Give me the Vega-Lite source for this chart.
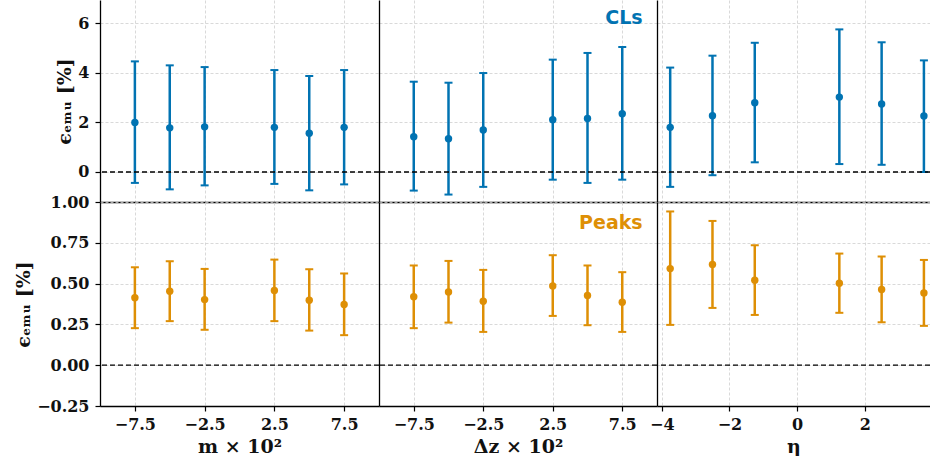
{
  "$schema": "https://vega.github.io/schema/vega-lite/v6.json",
  "padding": {"left": 14, "top": 0, "right": 0, "bottom": 0},
  "background": "white",
  "columns": 3,
  "spacing": 0,
  "bounds": "flush",
  "align": "each",
  "datasets": {
    "cls": [
      {"param": "m", "x": -7.5, "y": 2.00, "lo": -0.44, "hi": 4.46},
      {"param": "m", "x": -5, "y": 1.78, "lo": -0.70, "hi": 4.30},
      {"param": "m", "x": -2.5, "y": 1.82, "lo": -0.54, "hi": 4.23},
      {"param": "m", "x": 2.5, "y": 1.80, "lo": -0.48, "hi": 4.11},
      {"param": "m", "x": 5, "y": 1.56, "lo": -0.74, "hi": 3.87},
      {"param": "m", "x": 7.5, "y": 1.80, "lo": -0.50, "hi": 4.11},
      {"param": "dz", "x": -7.5, "y": 1.42, "lo": -0.75, "hi": 3.64},
      {"param": "dz", "x": -5, "y": 1.34, "lo": -0.91, "hi": 3.60},
      {"param": "dz", "x": -2.5, "y": 1.69, "lo": -0.60, "hi": 3.99},
      {"param": "dz", "x": 2.5, "y": 2.11, "lo": -0.31, "hi": 4.53},
      {"param": "dz", "x": 5, "y": 2.16, "lo": -0.44, "hi": 4.80},
      {"param": "dz", "x": 7.5, "y": 2.35, "lo": -0.31, "hi": 5.04},
      {"param": "eta", "x": -3.75, "y": 1.80, "lo": -0.60, "hi": 4.21},
      {"param": "eta", "x": -2.5, "y": 2.27, "lo": -0.13, "hi": 4.69},
      {"param": "eta", "x": -1.25, "y": 2.79, "lo": 0.39, "hi": 5.21},
      {"param": "eta", "x": 1.25, "y": 3.02, "lo": 0.32, "hi": 5.75},
      {"param": "eta", "x": 2.5, "y": 2.74, "lo": 0.29, "hi": 5.23},
      {"param": "eta", "x": 3.75, "y": 2.26, "lo": 0.00, "hi": 4.50}
    ],
    "peaks": [
      {"param": "m", "x": -7.5, "y": 0.413, "lo": 0.227, "hi": 0.600},
      {"param": "m", "x": -5, "y": 0.453, "lo": 0.270, "hi": 0.637},
      {"param": "m", "x": -2.5, "y": 0.402, "lo": 0.217, "hi": 0.590},
      {"param": "m", "x": 2.5, "y": 0.458, "lo": 0.270, "hi": 0.647},
      {"param": "m", "x": 5, "y": 0.398, "lo": 0.212, "hi": 0.588},
      {"param": "m", "x": 7.5, "y": 0.372, "lo": 0.184, "hi": 0.562},
      {"param": "dz", "x": -7.5, "y": 0.419, "lo": 0.227, "hi": 0.611},
      {"param": "dz", "x": -5, "y": 0.449, "lo": 0.261, "hi": 0.639},
      {"param": "dz", "x": -2.5, "y": 0.392, "lo": 0.204, "hi": 0.584},
      {"param": "dz", "x": 2.5, "y": 0.486, "lo": 0.302, "hi": 0.674},
      {"param": "dz", "x": 5, "y": 0.427, "lo": 0.245, "hi": 0.611},
      {"param": "dz", "x": 7.5, "y": 0.386, "lo": 0.204, "hi": 0.570},
      {"param": "eta", "x": -3.75, "y": 0.592, "lo": 0.247, "hi": 0.942},
      {"param": "eta", "x": -2.5, "y": 0.617, "lo": 0.351, "hi": 0.884},
      {"param": "eta", "x": -1.25, "y": 0.521, "lo": 0.308, "hi": 0.735},
      {"param": "eta", "x": 1.25, "y": 0.502, "lo": 0.321, "hi": 0.684},
      {"param": "eta", "x": 2.5, "y": 0.464, "lo": 0.263, "hi": 0.666},
      {"param": "eta", "x": 3.75, "y": 0.443, "lo": 0.241, "hi": 0.645}
    ]
  },
  "concat": [
    {
      "width": 279, "height": 202,
      "layer": [
        {"data": {"name": "cls"}, "transform": [{"filter": "datum.param === 'm'"}],
         "mark": {"type": "rule", "color": "#0173B2", "strokeWidth": 2.5},
         "encoding": {
           "x": {"field": "x", "type": "quantitative", "scale": {"domain": [-10, 10], "nice": false, "zero": false}, "axis": {"values": [-7.5, -2.5, 2.5, 7.5], "title": null, "labels": false, "ticks": false, "grid": true, "domain": true}},
           "y": {"field": "lo", "type": "quantitative", "scale": {"domain": [-1.21, 6.935], "nice": false, "zero": false}, "axis": {"values": [0, 2, 4, 6], "format": "d", "title": "ϵₑₘᵤ [%]", "grid": true, "domain": true, "ticks": true, "labels": true}},
           "y2": {"field": "hi"}}},
        {"data": {"name": "cls"}, "transform": [{"filter": "datum.param === 'm'"}],
         "mark": {"type": "tick", "orient": "horizontal", "color": "#0173B2", "size": 8, "thickness": 2, "opacity": 1},
         "encoding": {"x": {"field": "x", "type": "quantitative"}, "y": {"field": "lo", "type": "quantitative"}}},
        {"data": {"name": "cls"}, "transform": [{"filter": "datum.param === 'm'"}],
         "mark": {"type": "tick", "orient": "horizontal", "color": "#0173B2", "size": 8, "thickness": 2, "opacity": 1},
         "encoding": {"x": {"field": "x", "type": "quantitative"}, "y": {"field": "hi", "type": "quantitative"}}},
        {"data": {"name": "cls"}, "transform": [{"filter": "datum.param === 'm'"}],
         "mark": {"type": "circle", "color": "#0173B2", "size": 55, "opacity": 1},
         "encoding": {"x": {"field": "x", "type": "quantitative"}, "y": {"field": "y", "type": "quantitative"}}},
        {"data": {"values": [{"zero": 0}]},
         "mark": {"type": "rule", "color": "black", "strokeDash": [5, 3], "strokeWidth": 1.3},
         "encoding": {"y": {"field": "zero", "type": "quantitative"}}}
      ]
    },
    {
      "width": 278, "height": 202,
      "layer": [
        {"data": {"name": "cls"}, "transform": [{"filter": "datum.param === 'dz'"}],
         "mark": {"type": "rule", "color": "#0173B2", "strokeWidth": 2.5},
         "encoding": {
           "x": {"field": "x", "type": "quantitative", "scale": {"domain": [-10, 10], "nice": false, "zero": false}, "axis": {"values": [-7.5, -2.5, 2.5, 7.5], "title": null, "labels": false, "ticks": false, "grid": true, "domain": true}},
           "y": {"field": "lo", "type": "quantitative", "scale": {"domain": [-1.21, 6.935], "nice": false, "zero": false}, "axis": {"values": [0, 2, 4, 6], "title": null, "grid": true, "domain": true, "ticks": false, "labels": false}},
           "y2": {"field": "hi"}}},
        {"data": {"name": "cls"}, "transform": [{"filter": "datum.param === 'dz'"}],
         "mark": {"type": "tick", "orient": "horizontal", "color": "#0173B2", "size": 8, "thickness": 2, "opacity": 1},
         "encoding": {"x": {"field": "x", "type": "quantitative"}, "y": {"field": "lo", "type": "quantitative"}}},
        {"data": {"name": "cls"}, "transform": [{"filter": "datum.param === 'dz'"}],
         "mark": {"type": "tick", "orient": "horizontal", "color": "#0173B2", "size": 8, "thickness": 2, "opacity": 1},
         "encoding": {"x": {"field": "x", "type": "quantitative"}, "y": {"field": "hi", "type": "quantitative"}}},
        {"data": {"name": "cls"}, "transform": [{"filter": "datum.param === 'dz'"}],
         "mark": {"type": "circle", "color": "#0173B2", "size": 55, "opacity": 1},
         "encoding": {"x": {"field": "x", "type": "quantitative"}, "y": {"field": "y", "type": "quantitative"}}},
        {"data": {"values": [{"zero": 0}]},
         "mark": {"type": "rule", "color": "black", "strokeDash": [5, 3], "strokeWidth": 1.3},
         "encoding": {"y": {"field": "zero", "type": "quantitative"}}},
        {"data": {"values": [{"t": "CLs"}]},
         "mark": {"type": "text", "align": "right", "baseline": "alphabetic", "font": "DejaVu Sans", "fontWeight": "bold", "fontSize": 19, "color": "#0173B2"},
         "encoding": {"x": {"datum": 8.97, "type": "quantitative"}, "y": {"datum": 5.97, "type": "quantitative"}, "text": {"field": "t"}}}
      ]
    },
    {
      "width": 273, "height": 202,
      "layer": [
        {"data": {"name": "cls"}, "transform": [{"filter": "datum.param === 'eta'"}],
         "mark": {"type": "rule", "color": "#0173B2", "strokeWidth": 2.5},
         "encoding": {
           "x": {"field": "x", "type": "quantitative", "scale": {"domain": [-4.14, 3.93], "nice": false, "zero": false}, "axis": {"values": [-4, -2, 0, 2], "title": null, "labels": false, "ticks": false, "grid": true, "domain": true}},
           "y": {"field": "lo", "type": "quantitative", "scale": {"domain": [-1.21, 6.935], "nice": false, "zero": false}, "axis": {"values": [0, 2, 4, 6], "title": null, "grid": true, "domain": true, "ticks": false, "labels": false}},
           "y2": {"field": "hi"}}},
        {"data": {"name": "cls"}, "transform": [{"filter": "datum.param === 'eta'"}],
         "mark": {"type": "tick", "orient": "horizontal", "color": "#0173B2", "size": 8, "thickness": 2, "opacity": 1},
         "encoding": {"x": {"field": "x", "type": "quantitative"}, "y": {"field": "lo", "type": "quantitative"}}},
        {"data": {"name": "cls"}, "transform": [{"filter": "datum.param === 'eta'"}],
         "mark": {"type": "tick", "orient": "horizontal", "color": "#0173B2", "size": 8, "thickness": 2, "opacity": 1},
         "encoding": {"x": {"field": "x", "type": "quantitative"}, "y": {"field": "hi", "type": "quantitative"}}},
        {"data": {"name": "cls"}, "transform": [{"filter": "datum.param === 'eta'"}],
         "mark": {"type": "circle", "color": "#0173B2", "size": 55, "opacity": 1},
         "encoding": {"x": {"field": "x", "type": "quantitative"}, "y": {"field": "y", "type": "quantitative"}}},
        {"data": {"values": [{"zero": 0}]},
         "mark": {"type": "rule", "color": "black", "strokeDash": [5, 3], "strokeWidth": 1.3},
         "encoding": {"y": {"field": "zero", "type": "quantitative"}}}
      ]
    },
    {
      "width": 279, "height": 204,
      "layer": [
        {"data": {"name": "peaks"}, "transform": [{"filter": "datum.param === 'm'"}],
         "mark": {"type": "rule", "color": "#DE8F05", "strokeWidth": 2.5},
         "encoding": {
           "x": {"field": "x", "type": "quantitative", "scale": {"domain": [-10, 10], "nice": false, "zero": false}, "axis": {"values": [-7.5, -2.5, 2.5, 7.5], "format": ".1f", "title": "m × 10²", "labels": true, "ticks": true, "grid": true, "domain": true}},
           "y": {"field": "lo", "type": "quantitative", "scale": {"domain": [-0.25, 1.0], "nice": false, "zero": false}, "axis": {"values": [-0.25, 0, 0.25, 0.5, 0.75, 1.0], "format": ".2f", "title": "ϵₑₘᵤ [%]", "grid": true, "domain": true, "ticks": true, "labels": true}},
           "y2": {"field": "hi"}}},
        {"data": {"name": "peaks"}, "transform": [{"filter": "datum.param === 'm'"}],
         "mark": {"type": "tick", "orient": "horizontal", "color": "#DE8F05", "size": 8, "thickness": 2, "opacity": 1},
         "encoding": {"x": {"field": "x", "type": "quantitative"}, "y": {"field": "lo", "type": "quantitative"}}},
        {"data": {"name": "peaks"}, "transform": [{"filter": "datum.param === 'm'"}],
         "mark": {"type": "tick", "orient": "horizontal", "color": "#DE8F05", "size": 8, "thickness": 2, "opacity": 1},
         "encoding": {"x": {"field": "x", "type": "quantitative"}, "y": {"field": "hi", "type": "quantitative"}}},
        {"data": {"name": "peaks"}, "transform": [{"filter": "datum.param === 'm'"}],
         "mark": {"type": "circle", "color": "#DE8F05", "size": 55, "opacity": 1},
         "encoding": {"x": {"field": "x", "type": "quantitative"}, "y": {"field": "y", "type": "quantitative"}}},
        {"data": {"values": [{"zero": 0}]},
         "mark": {"type": "rule", "color": "black", "strokeDash": [5, 3], "strokeWidth": 1.3},
         "encoding": {"y": {"field": "zero", "type": "quantitative"}}}
      ]
    },
    {
      "width": 278, "height": 204,
      "layer": [
        {"data": {"name": "peaks"}, "transform": [{"filter": "datum.param === 'dz'"}],
         "mark": {"type": "rule", "color": "#DE8F05", "strokeWidth": 2.5},
         "encoding": {
           "x": {"field": "x", "type": "quantitative", "scale": {"domain": [-10, 10], "nice": false, "zero": false}, "axis": {"values": [-7.5, -2.5, 2.5, 7.5], "format": ".1f", "title": "Δz × 10²", "labels": true, "ticks": true, "grid": true, "domain": true}},
           "y": {"field": "lo", "type": "quantitative", "scale": {"domain": [-0.25, 1.0], "nice": false, "zero": false}, "axis": {"values": [-0.25, 0, 0.25, 0.5, 0.75, 1.0], "title": null, "grid": true, "domain": true, "ticks": false, "labels": false}},
           "y2": {"field": "hi"}}},
        {"data": {"name": "peaks"}, "transform": [{"filter": "datum.param === 'dz'"}],
         "mark": {"type": "tick", "orient": "horizontal", "color": "#DE8F05", "size": 8, "thickness": 2, "opacity": 1},
         "encoding": {"x": {"field": "x", "type": "quantitative"}, "y": {"field": "lo", "type": "quantitative"}}},
        {"data": {"name": "peaks"}, "transform": [{"filter": "datum.param === 'dz'"}],
         "mark": {"type": "tick", "orient": "horizontal", "color": "#DE8F05", "size": 8, "thickness": 2, "opacity": 1},
         "encoding": {"x": {"field": "x", "type": "quantitative"}, "y": {"field": "hi", "type": "quantitative"}}},
        {"data": {"name": "peaks"}, "transform": [{"filter": "datum.param === 'dz'"}],
         "mark": {"type": "circle", "color": "#DE8F05", "size": 55, "opacity": 1},
         "encoding": {"x": {"field": "x", "type": "quantitative"}, "y": {"field": "y", "type": "quantitative"}}},
        {"data": {"values": [{"zero": 0}]},
         "mark": {"type": "rule", "color": "black", "strokeDash": [5, 3], "strokeWidth": 1.3},
         "encoding": {"y": {"field": "zero", "type": "quantitative"}}},
        {"data": {"values": [{"t": "Peaks"}]},
         "mark": {"type": "text", "align": "right", "baseline": "alphabetic", "font": "DejaVu Sans", "fontWeight": "bold", "fontSize": 19, "color": "#DE8F05"},
         "encoding": {"x": {"datum": 8.97, "type": "quantitative"}, "y": {"datum": 0.836, "type": "quantitative"}, "text": {"field": "t"}}}
      ]
    },
    {
      "width": 273, "height": 204,
      "layer": [
        {"data": {"name": "peaks"}, "transform": [{"filter": "datum.param === 'eta'"}],
         "mark": {"type": "rule", "color": "#DE8F05", "strokeWidth": 2.5},
         "encoding": {
           "x": {"field": "x", "type": "quantitative", "scale": {"domain": [-4.14, 3.93], "nice": false, "zero": false}, "axis": {"values": [-4, -2, 0, 2], "format": "d", "title": "η", "labels": true, "ticks": true, "grid": true, "domain": true}},
           "y": {"field": "lo", "type": "quantitative", "scale": {"domain": [-0.25, 1.0], "nice": false, "zero": false}, "axis": {"values": [-0.25, 0, 0.25, 0.5, 0.75, 1.0], "title": null, "grid": true, "domain": true, "ticks": false, "labels": false}},
           "y2": {"field": "hi"}}},
        {"data": {"name": "peaks"}, "transform": [{"filter": "datum.param === 'eta'"}],
         "mark": {"type": "tick", "orient": "horizontal", "color": "#DE8F05", "size": 8, "thickness": 2, "opacity": 1},
         "encoding": {"x": {"field": "x", "type": "quantitative"}, "y": {"field": "lo", "type": "quantitative"}}},
        {"data": {"name": "peaks"}, "transform": [{"filter": "datum.param === 'eta'"}],
         "mark": {"type": "tick", "orient": "horizontal", "color": "#DE8F05", "size": 8, "thickness": 2, "opacity": 1},
         "encoding": {"x": {"field": "x", "type": "quantitative"}, "y": {"field": "hi", "type": "quantitative"}}},
        {"data": {"name": "peaks"}, "transform": [{"filter": "datum.param === 'eta'"}],
         "mark": {"type": "circle", "color": "#DE8F05", "size": 55, "opacity": 1},
         "encoding": {"x": {"field": "x", "type": "quantitative"}, "y": {"field": "y", "type": "quantitative"}}},
        {"data": {"values": [{"zero": 0}]},
         "mark": {"type": "rule", "color": "black", "strokeDash": [5, 3], "strokeWidth": 1.3},
         "encoding": {"y": {"field": "zero", "type": "quantitative"}}}
      ]
    }
  ],
  "config": {
    "view": {"stroke": null},
    "axis": {
      "domainColor": "black", "domainWidth": 1.3,
      "tickColor": "black", "tickWidth": 1.2, "tickSize": 5,
      "gridColor": "#cfcfcf", "gridDash": [3, 2], "gridWidth": 0.8,
      "labelFont": "DejaVu Serif", "labelFontWeight": "bold", "labelFontSize": 16, "labelColor": "#111111",
      "labelPadding": 5, "labelFlush": false, "labelOverlap": false,
      "titleFont": "DejaVu Serif", "titleFontWeight": "bold", "titleFontSize": 19, "titleColor": "#111111",
      "titlePadding": 5
    },
    "axisY": {"labelPadding": 6, "titlePadding": 3}
  }
}
